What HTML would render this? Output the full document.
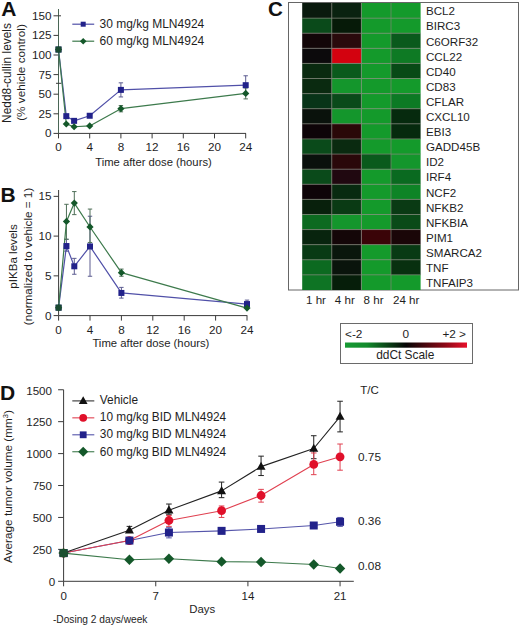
<!DOCTYPE html>
<html><head><meta charset="utf-8"><style>
html,body{margin:0;padding:0;background:#fff;}
svg{display:block;}
text{font-family:"Liberation Sans",sans-serif;}
</style></head><body>
<svg width="520" height="627" viewBox="0 0 520 627" font-family="Liberation Sans, sans-serif">
<rect width="520" height="627" fill="#fff"/>
<text x="1.20" y="15.70" font-size="21" text-anchor="start" fill="#111" font-weight="bold" >A</text>
<line x1="58.50" y1="9.00" x2="58.50" y2="133.40" stroke="#4a6656" stroke-width="1"/>
<line x1="58.50" y1="133.40" x2="246.00" y2="133.40" stroke="#3a3a3a" stroke-width="1"/>
<line x1="53.50" y1="133.40" x2="58.50" y2="133.40" stroke="#3a3a3a" stroke-width="1"/>
<text x="51.50" y="137.40" font-size="11.7" text-anchor="end" fill="#1e1e1e" font-weight="normal" >0</text>
<line x1="53.50" y1="113.80" x2="58.50" y2="113.80" stroke="#3a3a3a" stroke-width="1"/>
<text x="51.50" y="117.80" font-size="11.7" text-anchor="end" fill="#1e1e1e" font-weight="normal" >25</text>
<line x1="53.50" y1="94.20" x2="58.50" y2="94.20" stroke="#3a3a3a" stroke-width="1"/>
<text x="51.50" y="98.20" font-size="11.7" text-anchor="end" fill="#1e1e1e" font-weight="normal" >50</text>
<line x1="53.50" y1="74.60" x2="58.50" y2="74.60" stroke="#3a3a3a" stroke-width="1"/>
<text x="51.50" y="78.60" font-size="11.7" text-anchor="end" fill="#1e1e1e" font-weight="normal" >75</text>
<line x1="53.50" y1="55.00" x2="58.50" y2="55.00" stroke="#3a3a3a" stroke-width="1"/>
<text x="51.50" y="59.00" font-size="11.7" text-anchor="end" fill="#1e1e1e" font-weight="normal" >100</text>
<line x1="53.50" y1="35.40" x2="58.50" y2="35.40" stroke="#3a3a3a" stroke-width="1"/>
<text x="51.50" y="39.40" font-size="11.7" text-anchor="end" fill="#1e1e1e" font-weight="normal" >125</text>
<line x1="53.50" y1="15.80" x2="58.50" y2="15.80" stroke="#3a3a3a" stroke-width="1"/>
<text x="51.50" y="19.80" font-size="11.7" text-anchor="end" fill="#1e1e1e" font-weight="normal" >150</text>
<line x1="58.50" y1="15.80" x2="61.00" y2="15.80" stroke="#3a3a3a" stroke-width="1"/>
<line x1="56.00" y1="83.30" x2="61.40" y2="83.30" stroke="#3a3a3a" stroke-width="1"/>
<line x1="58.50" y1="133.40" x2="58.50" y2="138.40" stroke="#3a3a3a" stroke-width="1"/>
<text x="58.50" y="151.30" font-size="11.7" text-anchor="middle" fill="#1e1e1e" font-weight="normal" >0</text>
<line x1="89.70" y1="133.40" x2="89.70" y2="138.40" stroke="#3a3a3a" stroke-width="1"/>
<text x="89.70" y="151.30" font-size="11.7" text-anchor="middle" fill="#1e1e1e" font-weight="normal" >4</text>
<line x1="120.90" y1="133.40" x2="120.90" y2="138.40" stroke="#3a3a3a" stroke-width="1"/>
<text x="120.90" y="151.30" font-size="11.7" text-anchor="middle" fill="#1e1e1e" font-weight="normal" >8</text>
<line x1="152.10" y1="133.40" x2="152.10" y2="138.40" stroke="#3a3a3a" stroke-width="1"/>
<text x="152.10" y="151.30" font-size="11.7" text-anchor="middle" fill="#1e1e1e" font-weight="normal" >12</text>
<line x1="183.30" y1="133.40" x2="183.30" y2="138.40" stroke="#3a3a3a" stroke-width="1"/>
<text x="183.30" y="151.30" font-size="11.7" text-anchor="middle" fill="#1e1e1e" font-weight="normal" >16</text>
<line x1="214.50" y1="133.40" x2="214.50" y2="138.40" stroke="#3a3a3a" stroke-width="1"/>
<text x="214.50" y="151.30" font-size="11.7" text-anchor="middle" fill="#1e1e1e" font-weight="normal" >20</text>
<line x1="245.70" y1="133.40" x2="245.70" y2="138.40" stroke="#3a3a3a" stroke-width="1"/>
<text x="245.70" y="151.30" font-size="11.7" text-anchor="middle" fill="#1e1e1e" font-weight="normal" >24</text>
<text x="153.50" y="165.50" font-size="11.25" text-anchor="middle" fill="#1e1e1e" font-weight="normal" >Time after dose (hours)</text>
<text transform="translate(11.2,73) rotate(-90)" font-size="11.9" text-anchor="middle" fill="#1e1e1e">Nedd8-cullin levels</text>
<text transform="translate(24.8,72.5) rotate(-90)" font-size="11.75" text-anchor="middle" fill="#1e1e1e">(% vehicle control)</text>
<line x1="72.30" y1="24.20" x2="94.20" y2="24.20" stroke="#5050a8" stroke-width="1.2"/>
<rect x="80.70" y="21.70" width="5" height="5" fill="#22228a"/>
<text x="99.50" y="28.20" font-size="12" text-anchor="start" fill="#1e1e1e" font-weight="normal" >30 mg/kg MLN4924</text>
<line x1="72.30" y1="41.20" x2="94.20" y2="41.20" stroke="#3d7a4c" stroke-width="1.2"/>
<polygon points="83.20,37.90 86.50,41.20 83.20,44.50 79.90,41.20" fill="#14582a"/>
<text x="99.50" y="45.20" font-size="12" text-anchor="start" fill="#1e1e1e" font-weight="normal" >60 mg/kg MLN4924</text>
<line x1="120.90" y1="82.83" x2="120.90" y2="96.94" stroke="#5c5c90" stroke-width="1"/>
<line x1="118.70" y1="82.83" x2="123.10" y2="82.83" stroke="#5c5c90" stroke-width="1"/>
<line x1="118.70" y1="96.94" x2="123.10" y2="96.94" stroke="#5c5c90" stroke-width="1"/>
<line x1="245.70" y1="75.78" x2="245.70" y2="94.59" stroke="#5c5c90" stroke-width="1"/>
<line x1="243.50" y1="75.78" x2="247.90" y2="75.78" stroke="#5c5c90" stroke-width="1"/>
<line x1="243.50" y1="94.59" x2="247.90" y2="94.59" stroke="#5c5c90" stroke-width="1"/>
<line x1="120.90" y1="105.57" x2="120.90" y2="111.84" stroke="#4f6f58" stroke-width="1"/>
<line x1="118.70" y1="105.57" x2="123.10" y2="105.57" stroke="#4f6f58" stroke-width="1"/>
<line x1="118.70" y1="111.84" x2="123.10" y2="111.84" stroke="#4f6f58" stroke-width="1"/>
<line x1="245.70" y1="87.93" x2="245.70" y2="98.90" stroke="#4f6f58" stroke-width="1"/>
<line x1="243.50" y1="87.93" x2="247.90" y2="87.93" stroke="#4f6f58" stroke-width="1"/>
<line x1="243.50" y1="98.90" x2="247.90" y2="98.90" stroke="#4f6f58" stroke-width="1"/>
<polyline points="58.50,49.51 66.30,116.15 74.10,120.86 89.70,115.76 120.90,89.89 245.70,85.18" fill="none" stroke="#5050a8" stroke-width="1.2" stroke-linejoin="round"/>
<polyline points="58.50,49.51 66.30,123.99 74.10,126.74 89.70,125.95 120.90,108.70 245.70,93.42" fill="none" stroke="#3d7a4c" stroke-width="1.2" stroke-linejoin="round"/>
<rect x="55.50" y="46.51" width="6" height="6" fill="#22228a"/>
<rect x="63.30" y="113.15" width="6" height="6" fill="#22228a"/>
<rect x="71.10" y="117.86" width="6" height="6" fill="#22228a"/>
<rect x="86.70" y="112.76" width="6" height="6" fill="#22228a"/>
<rect x="117.90" y="86.89" width="6" height="6" fill="#22228a"/>
<rect x="242.70" y="82.18" width="6" height="6" fill="#22228a"/>
<polygon points="58.50,45.91 62.10,49.51 58.50,53.11 54.90,49.51" fill="#14582a"/>
<polygon points="66.30,120.39 69.90,123.99 66.30,127.59 62.70,123.99" fill="#14582a"/>
<polygon points="74.10,123.14 77.70,126.74 74.10,130.34 70.50,126.74" fill="#14582a"/>
<polygon points="89.70,122.35 93.30,125.95 89.70,129.55 86.10,125.95" fill="#14582a"/>
<polygon points="120.90,105.10 124.50,108.70 120.90,112.30 117.30,108.70" fill="#14582a"/>
<polygon points="245.70,89.82 249.30,93.42 245.70,97.02 242.10,93.42" fill="#14582a"/>
<rect x="55.50" y="46.51" width="6" height="6" fill="#1a4a30"/>
<text x="0.40" y="201.90" font-size="21" text-anchor="start" fill="#111" font-weight="bold" >B</text>
<line x1="58.60" y1="190.00" x2="58.60" y2="315.60" stroke="#3a3a3a" stroke-width="1"/>
<line x1="58.60" y1="315.60" x2="247.30" y2="315.60" stroke="#3a3a3a" stroke-width="1"/>
<line x1="53.60" y1="315.60" x2="58.60" y2="315.60" stroke="#3a3a3a" stroke-width="1"/>
<text x="51.50" y="319.60" font-size="11.7" text-anchor="end" fill="#1e1e1e" font-weight="normal" >0</text>
<line x1="53.60" y1="275.85" x2="58.60" y2="275.85" stroke="#3a3a3a" stroke-width="1"/>
<text x="51.50" y="279.85" font-size="11.7" text-anchor="end" fill="#1e1e1e" font-weight="normal" >5</text>
<line x1="53.60" y1="236.10" x2="58.60" y2="236.10" stroke="#3a3a3a" stroke-width="1"/>
<text x="51.50" y="240.10" font-size="11.7" text-anchor="end" fill="#1e1e1e" font-weight="normal" >10</text>
<line x1="53.60" y1="196.35" x2="58.60" y2="196.35" stroke="#3a3a3a" stroke-width="1"/>
<text x="51.50" y="200.35" font-size="11.7" text-anchor="end" fill="#1e1e1e" font-weight="normal" >15</text>
<line x1="58.60" y1="315.60" x2="58.60" y2="320.60" stroke="#3a3a3a" stroke-width="1"/>
<text x="58.60" y="333.60" font-size="11.7" text-anchor="middle" fill="#1e1e1e" font-weight="normal" >0</text>
<line x1="90.00" y1="315.60" x2="90.00" y2="320.60" stroke="#3a3a3a" stroke-width="1"/>
<text x="90.00" y="333.60" font-size="11.7" text-anchor="middle" fill="#1e1e1e" font-weight="normal" >4</text>
<line x1="121.40" y1="315.60" x2="121.40" y2="320.60" stroke="#3a3a3a" stroke-width="1"/>
<text x="121.40" y="333.60" font-size="11.7" text-anchor="middle" fill="#1e1e1e" font-weight="normal" >8</text>
<line x1="152.80" y1="315.60" x2="152.80" y2="320.60" stroke="#3a3a3a" stroke-width="1"/>
<text x="152.80" y="333.60" font-size="11.7" text-anchor="middle" fill="#1e1e1e" font-weight="normal" >12</text>
<line x1="184.20" y1="315.60" x2="184.20" y2="320.60" stroke="#3a3a3a" stroke-width="1"/>
<text x="184.20" y="333.60" font-size="11.7" text-anchor="middle" fill="#1e1e1e" font-weight="normal" >16</text>
<line x1="215.60" y1="315.60" x2="215.60" y2="320.60" stroke="#3a3a3a" stroke-width="1"/>
<text x="215.60" y="333.60" font-size="11.7" text-anchor="middle" fill="#1e1e1e" font-weight="normal" >20</text>
<line x1="247.00" y1="315.60" x2="247.00" y2="320.60" stroke="#3a3a3a" stroke-width="1"/>
<text x="247.00" y="333.60" font-size="11.7" text-anchor="middle" fill="#1e1e1e" font-weight="normal" >24</text>
<text x="150.90" y="347.00" font-size="11.3" text-anchor="middle" fill="#1e1e1e" font-weight="normal" >Time after dose (hours)</text>
<text transform="translate(17,256.5) rotate(-90)" font-size="11.6" text-anchor="middle" fill="#1e1e1e">pIKBa levels</text>
<text transform="translate(32.3,256.5) rotate(-90)" font-size="11.7" text-anchor="middle" fill="#1e1e1e">(normalized to vehicle = 1)</text>
<line x1="66.45" y1="239.28" x2="66.45" y2="251.21" stroke="#5c5c90" stroke-width="1"/>
<line x1="64.25" y1="239.28" x2="68.65" y2="239.28" stroke="#5c5c90" stroke-width="1"/>
<line x1="64.25" y1="251.21" x2="68.65" y2="251.21" stroke="#5c5c90" stroke-width="1"/>
<line x1="74.30" y1="258.36" x2="74.30" y2="274.26" stroke="#5c5c90" stroke-width="1"/>
<line x1="72.10" y1="258.36" x2="76.50" y2="258.36" stroke="#5c5c90" stroke-width="1"/>
<line x1="72.10" y1="274.26" x2="76.50" y2="274.26" stroke="#5c5c90" stroke-width="1"/>
<line x1="90.00" y1="216.23" x2="90.00" y2="276.25" stroke="#5c5c90" stroke-width="1"/>
<line x1="87.80" y1="216.23" x2="92.20" y2="216.23" stroke="#5c5c90" stroke-width="1"/>
<line x1="87.80" y1="276.25" x2="92.20" y2="276.25" stroke="#5c5c90" stroke-width="1"/>
<line x1="121.40" y1="287.38" x2="121.40" y2="298.11" stroke="#5c5c90" stroke-width="1"/>
<line x1="119.20" y1="287.38" x2="123.60" y2="287.38" stroke="#5c5c90" stroke-width="1"/>
<line x1="119.20" y1="298.11" x2="123.60" y2="298.11" stroke="#5c5c90" stroke-width="1"/>
<line x1="247.00" y1="300.10" x2="247.00" y2="306.86" stroke="#5c5c90" stroke-width="1"/>
<line x1="244.80" y1="300.10" x2="249.20" y2="300.10" stroke="#5c5c90" stroke-width="1"/>
<line x1="244.80" y1="306.86" x2="249.20" y2="306.86" stroke="#5c5c90" stroke-width="1"/>
<line x1="66.45" y1="204.30" x2="66.45" y2="239.28" stroke="#4f6f58" stroke-width="1"/>
<line x1="64.25" y1="204.30" x2="68.65" y2="204.30" stroke="#4f6f58" stroke-width="1"/>
<line x1="64.25" y1="239.28" x2="68.65" y2="239.28" stroke="#4f6f58" stroke-width="1"/>
<line x1="74.30" y1="191.58" x2="74.30" y2="214.64" stroke="#4f6f58" stroke-width="1"/>
<line x1="72.10" y1="191.58" x2="76.50" y2="191.58" stroke="#4f6f58" stroke-width="1"/>
<line x1="72.10" y1="214.64" x2="76.50" y2="214.64" stroke="#4f6f58" stroke-width="1"/>
<line x1="90.00" y1="209.07" x2="90.00" y2="242.46" stroke="#4f6f58" stroke-width="1"/>
<line x1="87.80" y1="209.07" x2="92.20" y2="209.07" stroke="#4f6f58" stroke-width="1"/>
<line x1="87.80" y1="242.46" x2="92.20" y2="242.46" stroke="#4f6f58" stroke-width="1"/>
<line x1="121.40" y1="269.09" x2="121.40" y2="276.25" stroke="#4f6f58" stroke-width="1"/>
<line x1="119.20" y1="269.09" x2="123.60" y2="269.09" stroke="#4f6f58" stroke-width="1"/>
<line x1="119.20" y1="276.25" x2="123.60" y2="276.25" stroke="#4f6f58" stroke-width="1"/>
<polyline points="58.60,307.65 66.45,246.04 74.30,266.31 90.00,246.44 121.40,292.94 247.00,304.07" fill="none" stroke="#5050a8" stroke-width="1.2" stroke-linejoin="round"/>
<polyline points="58.60,307.65 66.45,221.39 74.30,203.11 90.00,226.96 121.40,272.67 247.00,308.05" fill="none" stroke="#3d7a4c" stroke-width="1.2" stroke-linejoin="round"/>
<rect x="55.60" y="304.65" width="6" height="6" fill="#22228a"/>
<rect x="63.45" y="243.04" width="6" height="6" fill="#22228a"/>
<rect x="71.30" y="263.31" width="6" height="6" fill="#22228a"/>
<rect x="87.00" y="243.44" width="6" height="6" fill="#22228a"/>
<rect x="118.40" y="289.94" width="6" height="6" fill="#22228a"/>
<rect x="244.00" y="301.07" width="6" height="6" fill="#22228a"/>
<polygon points="58.60,304.05 62.20,307.65 58.60,311.25 55.00,307.65" fill="#14582a"/>
<polygon points="66.45,217.79 70.05,221.39 66.45,224.99 62.85,221.39" fill="#14582a"/>
<polygon points="74.30,199.51 77.90,203.11 74.30,206.71 70.70,203.11" fill="#14582a"/>
<polygon points="90.00,223.36 93.60,226.96 90.00,230.56 86.40,226.96" fill="#14582a"/>
<polygon points="121.40,269.07 125.00,272.67 121.40,276.27 117.80,272.67" fill="#14582a"/>
<polygon points="247.00,304.45 250.60,308.05 247.00,311.65 243.40,308.05" fill="#14582a"/>
<rect x="55.60" y="304.65" width="6" height="6" fill="#1a4a30"/>
<text x="267.90" y="16.00" font-size="20.6" text-anchor="start" fill="#111" font-weight="bold" >C</text>
<rect x="288.5" y="2.5" width="230" height="287.5" fill="none" stroke="#666" stroke-width="1"/>
<rect x="302.20" y="3.00" width="29.60" height="15.11" fill="#0a1a0e"/>
<rect x="331.80" y="3.00" width="29.60" height="15.11" fill="#0a2210"/>
<rect x="361.40" y="3.00" width="29.60" height="15.11" fill="#149a2b"/>
<rect x="391.00" y="3.00" width="29.60" height="15.11" fill="#149a2b"/>
<rect x="302.20" y="18.11" width="29.60" height="15.11" fill="#0a4a1a"/>
<rect x="331.80" y="18.11" width="29.60" height="15.11" fill="#061a08"/>
<rect x="361.40" y="18.11" width="29.60" height="15.11" fill="#149a2b"/>
<rect x="391.00" y="18.11" width="29.60" height="15.11" fill="#149a2b"/>
<rect x="302.20" y="33.21" width="29.60" height="15.11" fill="#120608"/>
<rect x="331.80" y="33.21" width="29.60" height="15.11" fill="#2a0a0c"/>
<rect x="361.40" y="33.21" width="29.60" height="15.11" fill="#149a2b"/>
<rect x="391.00" y="33.21" width="29.60" height="15.11" fill="#0a5a1c"/>
<rect x="302.20" y="48.31" width="29.60" height="15.11" fill="#0c0a0c"/>
<rect x="331.80" y="48.31" width="29.60" height="15.11" fill="#d3020f"/>
<rect x="361.40" y="48.31" width="29.60" height="15.11" fill="#149a2b"/>
<rect x="391.00" y="48.31" width="29.60" height="15.11" fill="#0e7a24"/>
<rect x="302.20" y="63.42" width="29.60" height="15.11" fill="#0a2a10"/>
<rect x="331.80" y="63.42" width="29.60" height="15.11" fill="#0a5a1c"/>
<rect x="361.40" y="63.42" width="29.60" height="15.11" fill="#149a2b"/>
<rect x="391.00" y="63.42" width="29.60" height="15.11" fill="#084a16"/>
<rect x="302.20" y="78.53" width="29.60" height="15.11" fill="#0a2a10"/>
<rect x="331.80" y="78.53" width="29.60" height="15.11" fill="#14962c"/>
<rect x="361.40" y="78.53" width="29.60" height="15.11" fill="#149a2b"/>
<rect x="391.00" y="78.53" width="29.60" height="15.11" fill="#149a2b"/>
<rect x="302.20" y="93.63" width="29.60" height="15.11" fill="#083418"/>
<rect x="331.80" y="93.63" width="29.60" height="15.11" fill="#0a4a1a"/>
<rect x="361.40" y="93.63" width="29.60" height="15.11" fill="#149a2b"/>
<rect x="391.00" y="93.63" width="29.60" height="15.11" fill="#0c7a24"/>
<rect x="302.20" y="108.73" width="29.60" height="15.11" fill="#0a120c"/>
<rect x="331.80" y="108.73" width="29.60" height="15.11" fill="#14962c"/>
<rect x="361.40" y="108.73" width="29.60" height="15.11" fill="#149a2b"/>
<rect x="391.00" y="108.73" width="29.60" height="15.11" fill="#062a0e"/>
<rect x="302.20" y="123.84" width="29.60" height="15.11" fill="#0e0408"/>
<rect x="331.80" y="123.84" width="29.60" height="15.11" fill="#2a0808"/>
<rect x="361.40" y="123.84" width="29.60" height="15.11" fill="#149a2b"/>
<rect x="391.00" y="123.84" width="29.60" height="15.11" fill="#062a0e"/>
<rect x="302.20" y="138.94" width="29.60" height="15.11" fill="#0a4a1a"/>
<rect x="331.80" y="138.94" width="29.60" height="15.11" fill="#0a2a10"/>
<rect x="361.40" y="138.94" width="29.60" height="15.11" fill="#149a2b"/>
<rect x="391.00" y="138.94" width="29.60" height="15.11" fill="#149a2b"/>
<rect x="302.20" y="154.05" width="29.60" height="15.11" fill="#0a100c"/>
<rect x="331.80" y="154.05" width="29.60" height="15.11" fill="#2a080a"/>
<rect x="361.40" y="154.05" width="29.60" height="15.11" fill="#0a5a1c"/>
<rect x="391.00" y="154.05" width="29.60" height="15.11" fill="#14962c"/>
<rect x="302.20" y="169.16" width="29.60" height="15.11" fill="#0a4a1a"/>
<rect x="331.80" y="169.16" width="29.60" height="15.11" fill="#200810"/>
<rect x="361.40" y="169.16" width="29.60" height="15.11" fill="#149a2b"/>
<rect x="391.00" y="169.16" width="29.60" height="15.11" fill="#0a6a20"/>
<rect x="302.20" y="184.26" width="29.60" height="15.11" fill="#0e0408"/>
<rect x="331.80" y="184.26" width="29.60" height="15.11" fill="#082a10"/>
<rect x="361.40" y="184.26" width="29.60" height="15.11" fill="#149a2b"/>
<rect x="391.00" y="184.26" width="29.60" height="15.11" fill="#0e8426"/>
<rect x="302.20" y="199.37" width="29.60" height="15.11" fill="#08200c"/>
<rect x="331.80" y="199.37" width="29.60" height="15.11" fill="#0a3a14"/>
<rect x="361.40" y="199.37" width="29.60" height="15.11" fill="#149a2b"/>
<rect x="391.00" y="199.37" width="29.60" height="15.11" fill="#0a3a14"/>
<rect x="302.20" y="214.47" width="29.60" height="15.11" fill="#0c6a20"/>
<rect x="331.80" y="214.47" width="29.60" height="15.11" fill="#14962c"/>
<rect x="361.40" y="214.47" width="29.60" height="15.11" fill="#149a2b"/>
<rect x="391.00" y="214.47" width="29.60" height="15.11" fill="#0a4a18"/>
<rect x="302.20" y="229.58" width="29.60" height="15.11" fill="#08240e"/>
<rect x="331.80" y="229.58" width="29.60" height="15.11" fill="#140608"/>
<rect x="361.40" y="229.58" width="29.60" height="15.11" fill="#3a0408"/>
<rect x="391.00" y="229.58" width="29.60" height="15.11" fill="#1a0608"/>
<rect x="302.20" y="244.68" width="29.60" height="15.11" fill="#083a14"/>
<rect x="331.80" y="244.68" width="29.60" height="15.11" fill="#0a160c"/>
<rect x="361.40" y="244.68" width="29.60" height="15.11" fill="#149a2b"/>
<rect x="391.00" y="244.68" width="29.60" height="15.11" fill="#083a14"/>
<rect x="302.20" y="259.79" width="29.60" height="15.11" fill="#0c6a20"/>
<rect x="331.80" y="259.79" width="29.60" height="15.11" fill="#0a140c"/>
<rect x="361.40" y="259.79" width="29.60" height="15.11" fill="#149a2b"/>
<rect x="391.00" y="259.79" width="29.60" height="15.11" fill="#08300f"/>
<rect x="302.20" y="274.89" width="29.60" height="15.11" fill="#0e7424"/>
<rect x="331.80" y="274.89" width="29.60" height="15.11" fill="#061e0a"/>
<rect x="361.40" y="274.89" width="29.60" height="15.11" fill="#149a2b"/>
<rect x="391.00" y="274.89" width="29.60" height="15.11" fill="#149a2b"/>
<line x1="302.20" y1="18.11" x2="420.60" y2="18.11" stroke="#85857a" stroke-width="0.65"/>
<line x1="302.20" y1="33.21" x2="420.60" y2="33.21" stroke="#85857a" stroke-width="0.65"/>
<line x1="302.20" y1="48.31" x2="420.60" y2="48.31" stroke="#85857a" stroke-width="0.65"/>
<line x1="302.20" y1="63.42" x2="420.60" y2="63.42" stroke="#85857a" stroke-width="0.65"/>
<line x1="302.20" y1="78.53" x2="420.60" y2="78.53" stroke="#85857a" stroke-width="0.65"/>
<line x1="302.20" y1="93.63" x2="420.60" y2="93.63" stroke="#85857a" stroke-width="0.65"/>
<line x1="302.20" y1="108.73" x2="420.60" y2="108.73" stroke="#85857a" stroke-width="0.65"/>
<line x1="302.20" y1="123.84" x2="420.60" y2="123.84" stroke="#85857a" stroke-width="0.65"/>
<line x1="302.20" y1="138.94" x2="420.60" y2="138.94" stroke="#85857a" stroke-width="0.65"/>
<line x1="302.20" y1="154.05" x2="420.60" y2="154.05" stroke="#85857a" stroke-width="0.65"/>
<line x1="302.20" y1="169.16" x2="420.60" y2="169.16" stroke="#85857a" stroke-width="0.65"/>
<line x1="302.20" y1="184.26" x2="420.60" y2="184.26" stroke="#85857a" stroke-width="0.65"/>
<line x1="302.20" y1="199.37" x2="420.60" y2="199.37" stroke="#85857a" stroke-width="0.65"/>
<line x1="302.20" y1="214.47" x2="420.60" y2="214.47" stroke="#85857a" stroke-width="0.65"/>
<line x1="302.20" y1="229.58" x2="420.60" y2="229.58" stroke="#85857a" stroke-width="0.65"/>
<line x1="302.20" y1="244.68" x2="420.60" y2="244.68" stroke="#85857a" stroke-width="0.65"/>
<line x1="302.20" y1="259.79" x2="420.60" y2="259.79" stroke="#85857a" stroke-width="0.65"/>
<line x1="302.20" y1="274.89" x2="420.60" y2="274.89" stroke="#85857a" stroke-width="0.65"/>
<line x1="331.80" y1="3.00" x2="331.80" y2="290.00" stroke="#85857a" stroke-width="0.65"/>
<line x1="361.40" y1="3.00" x2="361.40" y2="290.00" stroke="#85857a" stroke-width="0.65"/>
<line x1="391.00" y1="3.00" x2="391.00" y2="290.00" stroke="#85857a" stroke-width="0.65"/>
<text x="426.00" y="15.30" font-size="11.6" text-anchor="start" fill="#1e1e1e" font-weight="normal" >BCL2</text>
<text x="426.00" y="30.40" font-size="11.6" text-anchor="start" fill="#1e1e1e" font-weight="normal" >BIRC3</text>
<text x="426.00" y="45.50" font-size="11.6" text-anchor="start" fill="#1e1e1e" font-weight="normal" >C6ORF32</text>
<text x="426.00" y="60.60" font-size="11.6" text-anchor="start" fill="#1e1e1e" font-weight="normal" >CCL22</text>
<text x="426.00" y="75.70" font-size="11.6" text-anchor="start" fill="#1e1e1e" font-weight="normal" >CD40</text>
<text x="426.00" y="90.80" font-size="11.6" text-anchor="start" fill="#1e1e1e" font-weight="normal" >CD83</text>
<text x="426.00" y="105.90" font-size="11.6" text-anchor="start" fill="#1e1e1e" font-weight="normal" >CFLAR</text>
<text x="426.00" y="121.00" font-size="11.6" text-anchor="start" fill="#1e1e1e" font-weight="normal" >CXCL10</text>
<text x="426.00" y="136.10" font-size="11.6" text-anchor="start" fill="#1e1e1e" font-weight="normal" >EBI3</text>
<text x="426.00" y="151.20" font-size="11.6" text-anchor="start" fill="#1e1e1e" font-weight="normal" >GADD45B</text>
<text x="426.00" y="166.30" font-size="11.6" text-anchor="start" fill="#1e1e1e" font-weight="normal" >ID2</text>
<text x="426.00" y="181.40" font-size="11.6" text-anchor="start" fill="#1e1e1e" font-weight="normal" >IRF4</text>
<text x="426.00" y="196.50" font-size="11.6" text-anchor="start" fill="#1e1e1e" font-weight="normal" >NCF2</text>
<text x="426.00" y="211.60" font-size="11.6" text-anchor="start" fill="#1e1e1e" font-weight="normal" >NFKB2</text>
<text x="426.00" y="226.70" font-size="11.6" text-anchor="start" fill="#1e1e1e" font-weight="normal" >NFKBIA</text>
<text x="426.00" y="241.80" font-size="11.6" text-anchor="start" fill="#1e1e1e" font-weight="normal" >PIM1</text>
<text x="426.00" y="256.90" font-size="11.6" text-anchor="start" fill="#1e1e1e" font-weight="normal" >SMARCA2</text>
<text x="426.00" y="272.00" font-size="11.6" text-anchor="start" fill="#1e1e1e" font-weight="normal" >TNF</text>
<text x="426.00" y="287.10" font-size="11.6" text-anchor="start" fill="#1e1e1e" font-weight="normal" >TNFAIP3</text>
<text x="316.00" y="304.20" font-size="11.6" text-anchor="middle" fill="#1e1e1e" font-weight="normal" >1 hr</text>
<text x="344.80" y="304.20" font-size="11.6" text-anchor="middle" fill="#1e1e1e" font-weight="normal" >4 hr</text>
<text x="373.60" y="304.20" font-size="11.6" text-anchor="middle" fill="#1e1e1e" font-weight="normal" >8 hr</text>
<text x="406.20" y="304.20" font-size="11.6" text-anchor="middle" fill="#1e1e1e" font-weight="normal" >24 hr</text>
<defs><linearGradient id="gs" x1="0" x2="1" y1="0" y2="0"><stop offset="0" stop-color="#179a34"/><stop offset="0.18" stop-color="#128a2c"/><stop offset="0.5" stop-color="#050505"/><stop offset="0.82" stop-color="#8c0816"/><stop offset="1" stop-color="#e8102a"/></linearGradient></defs>
<rect x="340.5" y="323.5" width="132" height="40" fill="none" stroke="#6a6a6a" stroke-width="1"/>
<rect x="345" y="342.5" width="122" height="5.2" fill="url(#gs)"/>
<text x="345.00" y="338.00" font-size="11.8" text-anchor="start" fill="#1e1e1e" font-weight="normal" >&lt;-2</text>
<text x="405.90" y="338.00" font-size="11.8" text-anchor="middle" fill="#1e1e1e" font-weight="normal" >0</text>
<text x="466.00" y="338.00" font-size="11.8" text-anchor="end" fill="#1e1e1e" font-weight="normal" >+2 &gt;</text>
<text x="405.30" y="358.50" font-size="11.9" text-anchor="middle" fill="#1e1e1e" font-weight="normal" >ddCt Scale</text>
<text x="0.10" y="400.00" font-size="21" text-anchor="start" fill="#111" font-weight="bold" >D</text>
<line x1="63.60" y1="389.75" x2="63.60" y2="581.30" stroke="#3a3a3a" stroke-width="1"/>
<line x1="63.60" y1="581.30" x2="353.80" y2="581.30" stroke="#3a3a3a" stroke-width="1"/>
<line x1="58.10" y1="581.30" x2="63.60" y2="581.30" stroke="#3a3a3a" stroke-width="1"/>
<text x="55.20" y="586.10" font-size="11.6" text-anchor="end" fill="#1e1e1e" font-weight="normal" >0</text>
<line x1="58.10" y1="549.38" x2="63.60" y2="549.38" stroke="#3a3a3a" stroke-width="1"/>
<text x="52.00" y="554.17" font-size="11.6" text-anchor="end" fill="#1e1e1e" font-weight="normal" >250</text>
<line x1="58.10" y1="517.45" x2="63.60" y2="517.45" stroke="#3a3a3a" stroke-width="1"/>
<text x="52.00" y="522.25" font-size="11.6" text-anchor="end" fill="#1e1e1e" font-weight="normal" >500</text>
<line x1="58.10" y1="485.52" x2="63.60" y2="485.52" stroke="#3a3a3a" stroke-width="1"/>
<text x="52.00" y="490.32" font-size="11.6" text-anchor="end" fill="#1e1e1e" font-weight="normal" >750</text>
<line x1="58.10" y1="453.60" x2="63.60" y2="453.60" stroke="#3a3a3a" stroke-width="1"/>
<text x="52.00" y="458.40" font-size="11.6" text-anchor="end" fill="#1e1e1e" font-weight="normal" >1000</text>
<line x1="58.10" y1="421.67" x2="63.60" y2="421.67" stroke="#3a3a3a" stroke-width="1"/>
<text x="52.00" y="426.47" font-size="11.6" text-anchor="end" fill="#1e1e1e" font-weight="normal" >1250</text>
<line x1="58.10" y1="389.75" x2="63.60" y2="389.75" stroke="#3a3a3a" stroke-width="1"/>
<text x="52.00" y="394.55" font-size="11.6" text-anchor="end" fill="#1e1e1e" font-weight="normal" >1500</text>
<line x1="63.60" y1="581.30" x2="63.60" y2="586.30" stroke="#3a3a3a" stroke-width="1"/>
<text x="63.60" y="599.60" font-size="11.5" text-anchor="middle" fill="#1e1e1e" font-weight="normal" >0</text>
<line x1="155.75" y1="581.30" x2="155.75" y2="586.30" stroke="#3a3a3a" stroke-width="1"/>
<text x="155.75" y="599.60" font-size="11.5" text-anchor="middle" fill="#1e1e1e" font-weight="normal" >7</text>
<line x1="247.91" y1="581.30" x2="247.91" y2="586.30" stroke="#3a3a3a" stroke-width="1"/>
<text x="247.91" y="599.60" font-size="11.5" text-anchor="middle" fill="#1e1e1e" font-weight="normal" >14</text>
<line x1="340.06" y1="581.30" x2="340.06" y2="586.30" stroke="#3a3a3a" stroke-width="1"/>
<text x="340.06" y="599.60" font-size="11.5" text-anchor="middle" fill="#1e1e1e" font-weight="normal" >21</text>
<text x="202.30" y="613.20" font-size="11.4" text-anchor="middle" fill="#1e1e1e" font-weight="normal" >Days</text>
<text x="52.90" y="622.80" font-size="10.2" text-anchor="start" fill="#1e1e1e" font-weight="normal" >-Dosing 2 days/week</text>
<text transform="translate(12.3,486.5) rotate(-90)" font-size="11.75" text-anchor="middle" fill="#1e1e1e">Average tumor volume (mm<tspan font-size="7.5" dy="-4">3</tspan><tspan dy="4">)</tspan></text>
<line x1="72.30" y1="400.90" x2="94.30" y2="400.90" stroke="#333" stroke-width="1.1"/>
<polygon points="83.20,396.15 87.60,404.07 78.80,404.07" fill="#111111"/>
<text x="99.80" y="403.70" font-size="11.85" text-anchor="start" fill="#1e1e1e" font-weight="normal" >Vehicle</text>
<line x1="72.30" y1="417.85" x2="94.30" y2="417.85" stroke="#e04050" stroke-width="1.1"/>
<circle cx="83.20" cy="417.85" r="3.9" fill="#e0102a"/>
<text x="99.80" y="421.00" font-size="11.85" text-anchor="start" fill="#1e1e1e" font-weight="normal" >10 mg/kg BID MLN4924</text>
<line x1="72.30" y1="434.80" x2="94.30" y2="434.80" stroke="#5555aa" stroke-width="1.1"/>
<rect x="79.80" y="431.40" width="6.8" height="6.8" fill="#22228a"/>
<text x="99.80" y="438.30" font-size="11.85" text-anchor="start" fill="#1e1e1e" font-weight="normal" >30 mg/kg BID MLN4924</text>
<line x1="72.30" y1="451.75" x2="94.30" y2="451.75" stroke="#3d7a4c" stroke-width="1.1"/>
<polygon points="83.20,446.75 88.20,451.75 83.20,456.75 78.20,451.75" fill="#14582a"/>
<text x="99.80" y="455.60" font-size="11.85" text-anchor="start" fill="#1e1e1e" font-weight="normal" >60 mg/kg BID MLN4924</text>
<line x1="129.42" y1="526.39" x2="129.42" y2="530.22" stroke="#222" stroke-width="1"/>
<line x1="126.62" y1="526.39" x2="132.22" y2="526.39" stroke="#222" stroke-width="1"/>
<line x1="126.62" y1="530.22" x2="132.22" y2="530.22" stroke="#222" stroke-width="1"/>
<line x1="168.92" y1="504.04" x2="168.92" y2="514.26" stroke="#222" stroke-width="1"/>
<line x1="166.12" y1="504.04" x2="171.72" y2="504.04" stroke="#222" stroke-width="1"/>
<line x1="166.12" y1="514.26" x2="171.72" y2="514.26" stroke="#222" stroke-width="1"/>
<line x1="221.58" y1="482.08" x2="221.58" y2="497.66" stroke="#222" stroke-width="1"/>
<line x1="218.78" y1="482.08" x2="224.38" y2="482.08" stroke="#222" stroke-width="1"/>
<line x1="218.78" y1="497.66" x2="224.38" y2="497.66" stroke="#222" stroke-width="1"/>
<line x1="261.07" y1="456.15" x2="261.07" y2="475.56" stroke="#222" stroke-width="1"/>
<line x1="258.27" y1="456.15" x2="263.88" y2="456.15" stroke="#222" stroke-width="1"/>
<line x1="258.27" y1="475.56" x2="263.88" y2="475.56" stroke="#222" stroke-width="1"/>
<line x1="313.74" y1="435.72" x2="313.74" y2="458.71" stroke="#222" stroke-width="1"/>
<line x1="310.94" y1="435.72" x2="316.54" y2="435.72" stroke="#222" stroke-width="1"/>
<line x1="310.94" y1="458.71" x2="316.54" y2="458.71" stroke="#222" stroke-width="1"/>
<line x1="340.06" y1="401.24" x2="340.06" y2="431.89" stroke="#222" stroke-width="1"/>
<line x1="337.26" y1="401.24" x2="342.87" y2="401.24" stroke="#222" stroke-width="1"/>
<line x1="337.26" y1="431.89" x2="342.87" y2="431.89" stroke="#222" stroke-width="1"/>
<line x1="168.92" y1="515.53" x2="168.92" y2="526.39" stroke="#e04050" stroke-width="1"/>
<line x1="166.12" y1="515.53" x2="171.72" y2="515.53" stroke="#e04050" stroke-width="1"/>
<line x1="166.12" y1="526.39" x2="171.72" y2="526.39" stroke="#e04050" stroke-width="1"/>
<line x1="221.58" y1="505.96" x2="221.58" y2="517.45" stroke="#e04050" stroke-width="1"/>
<line x1="218.78" y1="505.96" x2="224.38" y2="505.96" stroke="#e04050" stroke-width="1"/>
<line x1="218.78" y1="517.45" x2="224.38" y2="517.45" stroke="#e04050" stroke-width="1"/>
<line x1="261.07" y1="489.36" x2="261.07" y2="502.13" stroke="#e04050" stroke-width="1"/>
<line x1="258.27" y1="489.36" x2="263.88" y2="489.36" stroke="#e04050" stroke-width="1"/>
<line x1="258.27" y1="502.13" x2="263.88" y2="502.13" stroke="#e04050" stroke-width="1"/>
<line x1="313.74" y1="452.96" x2="313.74" y2="474.67" stroke="#e04050" stroke-width="1"/>
<line x1="310.94" y1="452.96" x2="316.54" y2="452.96" stroke="#e04050" stroke-width="1"/>
<line x1="310.94" y1="474.67" x2="316.54" y2="474.67" stroke="#e04050" stroke-width="1"/>
<line x1="340.06" y1="444.02" x2="340.06" y2="470.20" stroke="#e04050" stroke-width="1"/>
<line x1="337.26" y1="444.02" x2="342.87" y2="444.02" stroke="#e04050" stroke-width="1"/>
<line x1="337.26" y1="470.20" x2="342.87" y2="470.20" stroke="#e04050" stroke-width="1"/>
<line x1="168.92" y1="527.67" x2="168.92" y2="537.88" stroke="#5555aa" stroke-width="1"/>
<line x1="166.12" y1="527.67" x2="171.72" y2="527.67" stroke="#5555aa" stroke-width="1"/>
<line x1="166.12" y1="537.88" x2="171.72" y2="537.88" stroke="#5555aa" stroke-width="1"/>
<line x1="340.06" y1="517.45" x2="340.06" y2="526.39" stroke="#5555aa" stroke-width="1"/>
<line x1="337.26" y1="517.45" x2="342.87" y2="517.45" stroke="#5555aa" stroke-width="1"/>
<line x1="337.26" y1="526.39" x2="342.87" y2="526.39" stroke="#5555aa" stroke-width="1"/>
<polyline points="63.60,553.08 129.42,559.72 168.92,558.70 221.58,561.63 261.07,562.02 313.74,564.57 340.06,568.53" fill="none" stroke="#3d7a4c" stroke-width="1.1" stroke-linejoin="round"/>
<polyline points="63.60,553.08 129.42,540.56 168.92,532.52 221.58,530.86 261.07,528.94 313.74,525.50 340.06,521.79" fill="none" stroke="#5555aa" stroke-width="1.1" stroke-linejoin="round"/>
<polyline points="63.60,553.08 129.42,540.56 168.92,520.51 221.58,510.68 261.07,495.49 313.74,464.45 340.06,456.79" fill="none" stroke="#e04050" stroke-width="1.1" stroke-linejoin="round"/>
<polyline points="63.60,553.08 129.42,530.22 168.92,510.17 221.58,490.89 261.07,466.63 313.74,448.49 340.06,416.57" fill="none" stroke="#222" stroke-width="1.1" stroke-linejoin="round"/>
<polygon points="63.60,548.22 68.10,556.32 59.10,556.32" fill="#111111"/>
<polygon points="129.42,525.36 133.92,533.46 124.92,533.46" fill="#111111"/>
<polygon points="168.92,505.31 173.42,513.41 164.42,513.41" fill="#111111"/>
<polygon points="221.58,486.03 226.08,494.13 217.08,494.13" fill="#111111"/>
<polygon points="261.07,461.77 265.57,469.87 256.57,469.87" fill="#111111"/>
<polygon points="313.74,443.63 318.24,451.73 309.24,451.73" fill="#111111"/>
<polygon points="340.06,411.71 344.56,419.81 335.56,419.81" fill="#111111"/>
<circle cx="63.60" cy="553.08" r="4.4" fill="#e0102a"/>
<circle cx="129.42" cy="540.56" r="4.4" fill="#e0102a"/>
<circle cx="168.92" cy="520.51" r="4.4" fill="#e0102a"/>
<circle cx="221.58" cy="510.68" r="4.4" fill="#e0102a"/>
<circle cx="261.07" cy="495.49" r="4.4" fill="#e0102a"/>
<circle cx="313.74" cy="464.45" r="4.4" fill="#e0102a"/>
<circle cx="340.06" cy="456.79" r="4.4" fill="#e0102a"/>
<rect x="59.60" y="549.08" width="8" height="8" fill="#22228a"/>
<rect x="125.42" y="536.56" width="8" height="8" fill="#22228a"/>
<rect x="164.92" y="528.52" width="8" height="8" fill="#22228a"/>
<rect x="217.58" y="526.86" width="8" height="8" fill="#22228a"/>
<rect x="257.07" y="524.94" width="8" height="8" fill="#22228a"/>
<rect x="309.74" y="521.50" width="8" height="8" fill="#22228a"/>
<rect x="336.06" y="517.79" width="8" height="8" fill="#22228a"/>
<polygon points="63.60,547.88 68.80,553.08 63.60,558.28 58.40,553.08" fill="#14582a"/>
<polygon points="129.42,554.52 134.62,559.72 129.42,564.92 124.22,559.72" fill="#14582a"/>
<polygon points="168.92,553.50 174.12,558.70 168.92,563.90 163.72,558.70" fill="#14582a"/>
<polygon points="221.58,556.43 226.78,561.63 221.58,566.83 216.38,561.63" fill="#14582a"/>
<polygon points="261.07,556.82 266.27,562.02 261.07,567.22 255.88,562.02" fill="#14582a"/>
<polygon points="313.74,559.37 318.94,564.57 313.74,569.77 308.54,564.57" fill="#14582a"/>
<polygon points="340.06,563.33 345.26,568.53 340.06,573.73 334.87,568.53" fill="#14582a"/>
<rect x="59.60" y="549.08" width="8" height="8" fill="#1c5030"/>
<text x="360.20" y="394.30" font-size="11.5" text-anchor="start" fill="#1e1e1e" font-weight="normal" >T/C</text>
<text x="358.00" y="460.70" font-size="11.8" text-anchor="start" fill="#1e1e1e" font-weight="normal" >0.75</text>
<text x="358.00" y="525.10" font-size="11.8" text-anchor="start" fill="#1e1e1e" font-weight="normal" >0.36</text>
<text x="358.00" y="569.80" font-size="11.8" text-anchor="start" fill="#1e1e1e" font-weight="normal" >0.08</text>
</svg>
</body></html>
